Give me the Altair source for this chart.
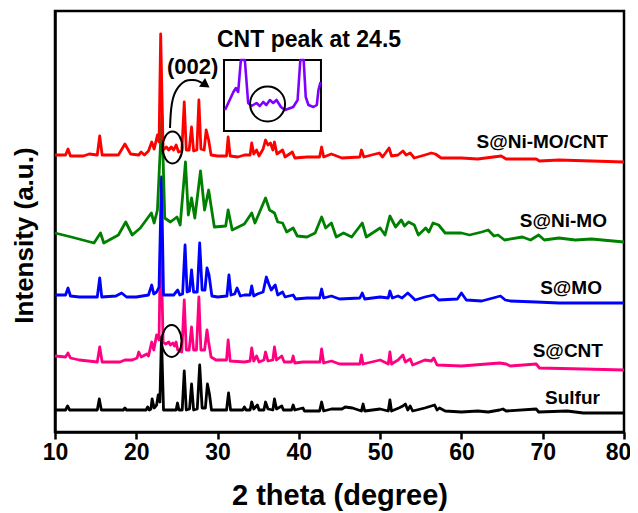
import altair as alt
import pandas as pd

# ---------------- data (2theta in degree, intensity in a.u., curves stacked) ----------------
SULFUR = [(10, 22), (11.3, 22), (11.55, 26), (11.8, 22), (15.2, 22), (15.45, 33), (15.7, 22), (18.4, 22),
          (18.6, 24), (18.8, 22), (21.2, 22), (21.4, 25), (21.6, 22), (21.8, 23), (21.95, 33), (22.2, 24),
          (22.5, 27), (22.7, 37), (22.9, 30), (23.1, 95), (23.35, 22), (24.9, 22), (25.07, 29), (25.25, 22),
          (25.65, 22), (25.9, 61), (26.15, 22), (26.55, 23), (26.8, 48), (27.05, 22), (27.5, 23), (27.8, 67),
          (28.1, 24), (28.5, 24), (28.75, 48), (29.0, 38), (29.25, 22), (31.1, 22), (31.35, 39), (31.6, 22),
          (33.1, 22), (33.3, 25), (33.5, 22), (34.0, 22), (34.2, 30), (34.45, 23), (34.9, 27), (35.1, 22),
          (35.7, 22), (35.9, 30), (36.2, 23), (36.8, 22), (37.0, 33), (37.25, 23), (37.9, 26), (38.1, 22),
          (39.1, 22), (39.3, 27), (39.5, 22), (40.5, 24), (40.7, 21), (42.55, 21), (42.8, 30), (43.05, 21),
          (44.0, 23), (45.3, 23), (45.7, 25), (46.6, 24), (47.7, 21), (47.9, 28), (48.1, 21), (50.0, 23),
          (51.0, 21), (51.2, 32), (51.4, 21), (52.3, 24), (52.8, 26), (53.1, 28), (53.4, 22), (53.7, 26),
          (54.0, 21), (55.5, 24), (56.7, 27), (57.0, 22), (57.3, 24), (58.0, 21), (60, 20), (62, 21),
          (63.3, 20), (64.7, 22), (65.1, 23), (65.5, 21), (69.2, 23), (69.5, 20), (73, 21), (75, 19), (80, 19)]

S_CNT = [(10, 76), (11.3, 75), (11.6, 79), (11.9, 74), (13, 72), (15.2, 70), (15.5, 85), (15.8, 70), (18.0, 70),
         (18.6, 72), (19.5, 72), (20.1, 74), (20.3, 80), (20.6, 75), (21.3, 78), (21.5, 76), (21.9, 90),
         (22.15, 82), (22.5, 97), (22.8, 92), (23.0, 202), (23.3, 90), (23.6, 88), (24.0, 90), (24.2, 87),
         (24.5, 89), (24.7, 86), (24.9, 90), (25.1, 82), (25.6, 80), (25.9, 132), (26.15, 82), (26.5, 82),
         (26.8, 105), (27.05, 82), (27.4, 82), (27.7, 135), (27.95, 82), (28.4, 82), (28.7, 102), (28.9, 90),
         (29.2, 75), (29.8, 72), (31.1, 72), (31.3, 92), (31.55, 71), (33.3, 70), (34.0, 71), (34.2, 84),
         (34.45, 71), (34.8, 76), (35.1, 70), (35.7, 72), (35.9, 80), (36.2, 71), (36.8, 72), (37.0, 85),
         (37.25, 72), (37.9, 76), (38.2, 70), (39.1, 70), (39.3, 76), (39.5, 69), (40.5, 70), (42.6, 70),
         (42.8, 83), (43.05, 69), (44.0, 71), (45, 68), (47.5, 68), (47.7, 77), (47.9, 68), (50.0, 72),
         (51.0, 68), (51.2, 80), (51.4, 68), (52.2, 72), (52.8, 77), (53.1, 70), (53.7, 73), (54.0, 67),
         (55.5, 72), (56.3, 71), (56.6, 74), (57.0, 67), (60, 66), (64.7, 69), (65.5, 68), (66, 66),
         (69.2, 68), (69.6, 64), (75, 63), (80, 62)]

S_MO = [(10, 137), (11.3, 137), (11.6, 144), (11.9, 136), (13, 135), (15.2, 135), (15.5, 154), (15.75, 135),
        (17.5, 136), (18.2, 139), (18.8, 135), (20, 135), (21.5, 137), (21.9, 147), (22.15, 138), (22.5, 140),
        (22.8, 145), (23.1, 255), (23.35, 137), (24.6, 137), (25.1, 142), (25.35, 137), (25.7, 138), (26.0, 187),
        (26.25, 140), (26.55, 141), (26.8, 162), (27.05, 140), (27.5, 140), (27.8, 189), (28.1, 142),
        (28.45, 142), (28.7, 164), (28.95, 157), (29.3, 136), (30, 135), (31.15, 136), (31.4, 157),
        (31.65, 137), (32.1, 138), (32.4, 144), (32.8, 136), (33.3, 137), (34.0, 137), (34.2, 146),
        (34.45, 136), (34.9, 138), (35.6, 140), (36.0, 155), (36.3, 148), (36.6, 142), (37.1, 147),
        (37.4, 137), (38.0, 140), (38.3, 135), (39.3, 137), (39.6, 133), (41, 134), (42.55, 134), (42.8, 143),
        (43.05, 134), (44, 136), (45, 133), (47.5, 134), (47.8, 139), (48.1, 133), (50, 135), (51.0, 134),
        (51.2, 141), (51.5, 134), (52.2, 136), (52.7, 134), (53.4, 139), (53.8, 136), (54.3, 132), (55.5, 135),
        (56.6, 137), (57.2, 132), (59.5, 133), (60.0, 139), (60.6, 132), (62.5, 131), (64.8, 136),
        (65.4, 132), (66, 131), (69.2, 130), (72, 129), (80, 129)]

S_NIMO = [(10, 199), (12, 195), (14.8, 189), (15.6, 199), (16.0, 189), (17.8, 197), (18.7, 210), (19.5, 197),
          (20.5, 204), (21.85, 219), (22.2, 209), (22.6, 222), (23.15, 317), (23.5, 214), (24.2, 210),
          (25.0, 215), (25.4, 207), (26.05, 270), (26.4, 217), (26.8, 234), (27.2, 214), (27.9, 261),
          (28.4, 222), (28.9, 242), (29.6, 205), (31.0, 206), (31.3, 222), (31.8, 202), (33.3, 208),
          (34.2, 219), (34.6, 209), (35.9, 234), (36.4, 222), (37.0, 219), (37.4, 210), (38.0, 209),
          (38.5, 200), (39.3, 204), (39.8, 196), (41, 195), (42, 199), (42.8, 215), (43.3, 204), (44.0, 209),
          (44.6, 195), (45.5, 199), (46.5, 195), (47.8, 209), (48.3, 195), (50, 204), (50.6, 197), (51.2, 216),
          (51.9, 205), (52.6, 212), (53.0, 206), (53.5, 210), (54.2, 207), (54.7, 197), (55.6, 204),
          (56.0, 200), (56.5, 209), (57.2, 207), (58, 199), (60, 199), (61, 197), (62.5, 200), (63.3, 202),
          (64.0, 196), (64.5, 197), (65.3, 192), (67.5, 195), (68.5, 192), (69.5, 197), (70.2, 192),
          (72, 194), (74, 192), (76, 193), (80, 190)]

S_NIMO_CNT = [(10, 277), (11.3, 277), (11.6, 283), (11.9, 276), (13.5, 276), (14.2, 278), (15.2, 277),
              (15.5, 296), (15.8, 277), (17.8, 277), (18.6, 288), (19.3, 278), (20.3, 277), (20.6, 280),
              (21.0, 277), (21.5, 281), (21.9, 290), (22.2, 283), (22.6, 297), (22.8, 290), (23.0, 398),
              (23.3, 282), (23.7, 285), (24.0, 282), (24.3, 285), (24.6, 282), (24.9, 287), (25.2, 280),
              (25.6, 281), (25.9, 330), (26.15, 282), (26.5, 282), (26.8, 305), (27.05, 281), (27.45, 282),
              (27.7, 332), (27.95, 283), (28.35, 282), (28.6, 302), (28.9, 292), (29.2, 277), (30, 276),
              (31.1, 276), (31.3, 295), (31.55, 276), (32.5, 275), (33.3, 277), (34.0, 277), (34.2, 289),
              (34.45, 278), (34.8, 282), (35.1, 276), (35.6, 283), (35.9, 292), (36.2, 287), (36.5, 289),
              (36.8, 282), (37.0, 290), (37.3, 278), (38.0, 282), (38.3, 275), (39.2, 280), (39.5, 274),
              (41, 275), (42.55, 275), (42.8, 285), (43.05, 275), (44, 278), (45.3, 274), (47.5, 275),
              (47.7, 282), (48.0, 275), (49.9, 279), (50.3, 275), (51.1, 284), (51.4, 276), (52.2, 277),
              (52.8, 281), (53.2, 277), (53.7, 279), (54.2, 274), (55.5, 277), (56.3, 279), (56.8, 278),
              (57.5, 274), (60, 274), (62, 273), (64.9, 276), (65.5, 273), (69.2, 273), (69.6, 271),
              (72, 272), (80, 270)]

SERIES = [SULFUR, S_CNT, S_MO, S_NIMO, S_NIMO_CNT]
SERIES_NAMES = ["Sulfur", "S@CNT", "S@MO", "S@Ni-MO", "S@Ni-MO/CNT"]
SERIES_COLORS = ["#000000", "#FF0080", "#0000FF", "#008000", "#FF0000"]

# inset: zoom of the 22-27 degree region (own units: degree, relative intensity)
INSET = [(22.22, 21), (22.62, 39), (22.74, 43), (22.85, 39), (22.98, 71), (23.17, 71), (23.33, 28),
         (23.49, 25), (23.73, 28), (23.89, 25), (24.05, 29), (24.2, 26), (24.37, 31), (24.53, 28),
         (24.69, 31), (24.9, 24), (25.09, 21), (25.49, 24), (25.7, 31), (25.83, 71), (25.99, 71),
         (26.09, 34), (26.22, 26), (26.46, 24), (26.62, 26), (26.7, 41), (26.8, 49)]
INSET_DEG = [22.17, 26.82]
INSET_INT = [0, 71]

# ---------------- layout constants (not data) ----------------
FONT = "Liberation Sans"
BOX_X = [30.79, 42.72]      # inset box in main 2theta units
BOX_Y = [301, 372]          # inset box in main intensity units
LABEL_POS = [(77.04, 28), (77.41, 75.5), (77.29, 138.5), (77.9, 205.5), (78.03, 284)]
ELLIPSES = [(24.45, 284.5), (24.35, 91)]
ARROW = [(24.15, 304), (24.21, 317), (24.36, 329), (24.64, 338), (25.13, 345), (25.75, 350),
         (26.36, 352), (26.98, 352), (27.59, 351.5), (28.08, 349)]
ARROW_HEAD = (28.55, 347)

xs = alt.Scale(domain=[10, 80], nice=False, zero=False)
ys = alt.Scale(domain=[0, 421], nice=False, zero=False)
X_AX = alt.Axis(values=[10, 20, 30, 40, 50, 60, 70, 80], format="d", grid=False, labelFlush=False,
                labelOffset={"condition": {"test": "datum.value == 80", "value": -6}, "value": 0},
                labelFont=FONT, labelFontSize=23, labelFontWeight="bold", labelColor="black",
                labelPadding=2, tickSize=7, tickWidth=2.5, tickColor="black",
                domainColor="black", domainWidth=2.5,
                titleFont=FONT, titleFontSize=29, titleFontWeight="bold", titleColor="black",
                titleY=49, titleBaseline="top")
Y_AX = alt.Axis(labels=False, ticks=False, grid=False, domainColor="black", domainWidth=2.5,
                titleFont=FONT, titleFontSize=26, titleFontWeight="bold", titleColor="black",
                titleX=-18, titleY=224, titleBaseline="bottom", titleAlign="center")


def enc(chart, xf="x", yf="y"):
    return chart.encode(
        x=alt.X(f"{xf}:Q", scale=xs, axis=X_AX, title="2 theta (degree)"),
        y=alt.Y(f"{yf}:Q", scale=ys, axis=Y_AX, title="Intensity (a.u.)"),
    )


layers = []
for pts, name, col in zip(SERIES, SERIES_NAMES, SERIES_COLORS):
    df = pd.DataFrame(pts, columns=["x", "y"])
    df["series"] = name
    layers.append(enc(alt.Chart(df).mark_line(color=col, strokeWidth=2.8, strokeJoin="round")))

# ellipses marking the CNT (002) region
ell_df = pd.DataFrame(ELLIPSES, columns=["x", "y"])
ell_path = "M0,-1 A0.62,1 0 1,1 0,1 A0.62,1 0 1,1 0,-1 Z"
layers.append(enc(alt.Chart(ell_df).mark_point(shape=ell_path, size=1024, filled=False,
                                               stroke="black", strokeWidth=2, opacity=1)))

# curved arrow
arr_df = pd.DataFrame(ARROW, columns=["x", "y"])
arr_df["o"] = range(len(arr_df))
layers.append(enc(alt.Chart(arr_df).mark_line(color="black", strokeWidth=2, interpolate="basis"))
              .encode(order="o:Q"))
head_df = pd.DataFrame([ARROW_HEAD], columns=["x", "y"])
layers.append(enc(alt.Chart(head_df).mark_point(shape="triangle-right", size=110, filled=True,
                                                color="black", opacity=1, angle=35)))

# annotation texts
ann_df = pd.DataFrame({"x": [29.93, 23.78], "y": [385, 358.5],
                       "t": ["CNT peak at 24.5", "(002)"], "s": [23, 22]})
layers.append(enc(alt.Chart(ann_df).mark_text(align="left", baseline="alphabetic", font=FONT,
                                              fontWeight="bold", color="black"))
              .encode(text="t:N", size=alt.Size("s:Q", scale=None, legend=None)))

# inset box
box_df = pd.DataFrame({"x": [BOX_X[0]], "x2": [BOX_X[1]], "y": [BOX_Y[0]], "y2": [BOX_Y[1]]})
layers.append(enc(alt.Chart(box_df).mark_rect(fill="white", stroke="black", strokeWidth=2))
              .encode(x2="x2:Q", y2="y2:Q"))

# inset curve, mapped from its own units into the box
kx = (BOX_X[1] - BOX_X[0]) / (INSET_DEG[1] - INSET_DEG[0])
ky = (BOX_Y[1] - BOX_Y[0]) / (INSET_INT[1] - INSET_INT[0])
ins_df = pd.DataFrame(INSET, columns=["d", "i"])
ins_df["o"] = range(len(ins_df))
ins = (alt.Chart(ins_df)
       .transform_calculate(x=f"{BOX_X[0]} + (datum.d - {INSET_DEG[0]}) * {kx}",
                            y=f"{BOX_Y[0]} + (datum.i - {INSET_INT[0]}) * {ky}")
       .mark_line(color="#8000FF", strokeWidth=2.6, strokeJoin="round"))
layers.append(enc(ins).encode(order="o:Q"))

ins_c = pd.DataFrame({"d": [24.26], "i": [27]})
insc = (alt.Chart(ins_c)
        .transform_calculate(x=f"{BOX_X[0]} + (datum.d - {INSET_DEG[0]}) * {kx}",
                             y=f"{BOX_Y[0]} + (datum.i - {INSET_INT[0]}) * {ky}")
        .mark_point(shape="circle", size=1225, filled=False, stroke="black", strokeWidth=2, opacity=1))
layers.append(enc(insc))

# series labels
lab_df = pd.DataFrame({"x": [p[0] for p in LABEL_POS], "y": [p[1] for p in LABEL_POS],
                       "t": SERIES_NAMES})
layers.append(enc(alt.Chart(lab_df).mark_text(align="right", baseline="alphabetic", font=FONT,
                                              fontWeight="bold", fontSize=19, color="black"))
              .encode(text="t:N"))

chart = (alt.layer(*layers)
         .properties(width=569, height=421,
                     autosize=alt.AutoSizeParams(type="none"),
                     padding={"left": 47, "top": 3, "right": 6, "bottom": 80},
                     background="white")
         .configure_view(stroke="black", strokeWidth=2.5))

chart.save("out.html", embed_options={"renderer": "svg", "actions": False})
